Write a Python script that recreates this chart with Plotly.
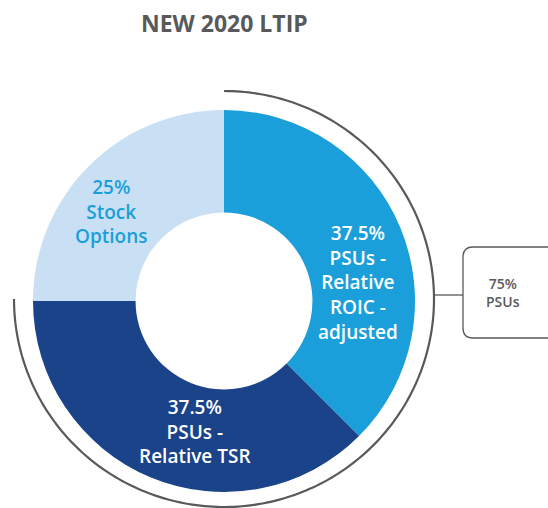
import numpy as np
import plotly.graph_objects as go

# LTIP award mix
categories = ["PSUs - Relative ROIC - adjusted", "PSUs - Relative TSR", "Stock Options"]
shares = [37.5, 37.5, 25.0]
slice_labels = [
    "37.5%<br>PSUs -<br>Relative<br>ROIC -<br>adjusted",
    "37.5%<br>PSUs -<br>Relative TSR",
    "25%<br>Stock<br>Options",
]
psu_total = shares[0] + shares[1]
psu_label = "{:g}%<br>PSUs".format(psu_total)
title_text = "NEW 2020 LTIP"

colors = ["#1a9fdb", "#1b4389", "#c9dff3"]
label_colors = ["white", "white", "#1a9fdb"]
grey = "#58595b"

W, H = 548, 508


def px(x):
    return x / W


def py(y):
    return 1 - y / H


# donut geometry in pixels
cx, cy, r_out = 224, 301, 191

fig = go.Figure()
fig.add_trace(go.Pie(
    labels=categories,
    values=shares,
    hole=0.463,
    sort=False,
    direction="clockwise",
    rotation=0,
    marker=dict(colors=colors, line=dict(width=0)),
    textinfo="none",
    hoverinfo="label+percent",
    showlegend=False,
    domain=dict(x=[px(cx - r_out), px(cx + r_out)], y=[py(cy + r_out), py(cy - r_out)]),
))

# bracket arc spanning the PSU share, starting at 12 o'clock and running clockwise
acx, acy, arx, ary = 224, 299, 210, 208
sweep = 2 * np.pi * psu_total / sum(shares)
theta = np.linspace(0, sweep, 240)
ax = acx + arx * np.sin(theta)
ay = acy - ary * np.cos(theta)
arc_path = "M " + " L ".join(f"{px(a):.5f},{py(b):.5f}" for a, b in zip(ax, ay))

shapes = [
    dict(type="path", path=arc_path, xref="paper", yref="paper",
         line=dict(color=grey, width=2.2)),
]

# connector and rounded box for the PSU total
conn_y = 295
conn_x0 = acx + arx * np.sqrt(1 - ((conn_y - acy) / ary) ** 2)
shapes.append(dict(type="line", xref="paper", yref="paper",
                   x0=px(conn_x0), y0=py(conn_y), x1=px(463), y1=py(conn_y),
                   line=dict(color=grey, width=1.3)))

bx0, bx1, by0, by1, rr = 463, 570, 247, 338, 10
box_path = (
    f"M {px(bx0 + rr)},{py(by0)} L {px(bx1)},{py(by0)} "
    f"L {px(bx1)},{py(by1)} L {px(bx0 + rr)},{py(by1)} "
    f"Q {px(bx0)},{py(by1)} {px(bx0)},{py(by1 - rr)} "
    f"L {px(bx0)},{py(by0 + rr)} "
    f"Q {px(bx0)},{py(by0)} {px(bx0 + rr)},{py(by0)} Z"
)
shapes.append(dict(type="path", path=box_path, xref="paper", yref="paper",
                   line=dict(color=grey, width=1.3), fillcolor="rgba(0,0,0,0)"))

label_pos = [(358, 282), (195, 431), (111, 212)]
annotations = []
for text, col, (lx, ly) in zip(slice_labels, label_colors, label_pos):
    annotations.append(dict(
        text=text, x=px(lx), y=py(ly), xref="paper", yref="paper",
        xanchor="center", yanchor="middle", showarrow=False, align="center",
        font=dict(family="Open Sans", size=19, color=col, weight=600),
    ))

annotations.append(dict(
    text=psu_label, x=px(503), y=py(292), xref="paper", yref="paper",
    xanchor="center", yanchor="middle", showarrow=False, align="center",
    font=dict(family="Open Sans", size=14, color=grey, weight=600),
))

annotations.append(dict(
    text="<b>" + title_text + "</b>", x=px(224), y=py(23), xref="paper", yref="paper",
    xanchor="center", yanchor="middle", showarrow=False,
    font=dict(family="Open Sans", size=23, color=grey),
))

fig.update_layout(
    width=W, height=H,
    margin=dict(l=0, r=0, t=0, b=0),
    paper_bgcolor="white",
    plot_bgcolor="white",
    shapes=shapes,
    annotations=annotations,
)

fig.write_html("out.html")
